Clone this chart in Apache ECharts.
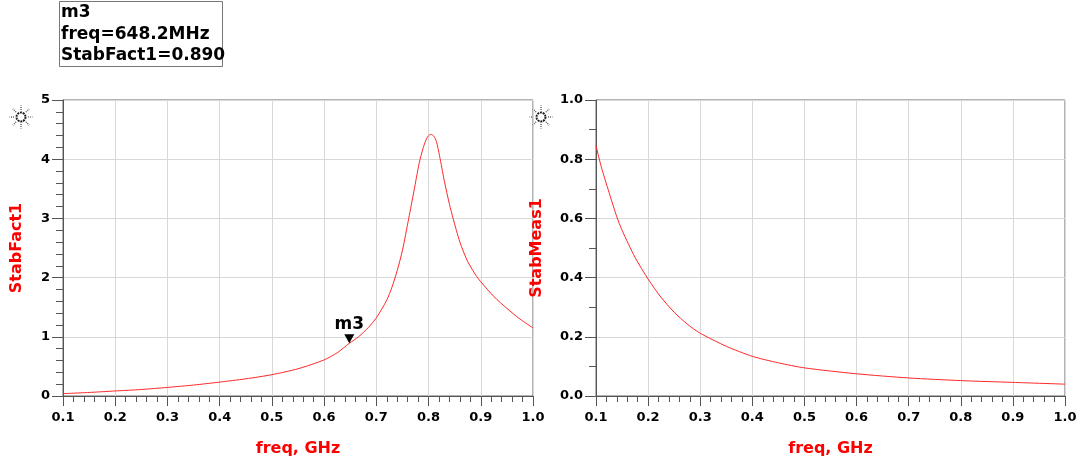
<!DOCTYPE html>
<html>
<head>
<meta charset="utf-8">
<script src="https://cdn.jsdelivr.net/npm/echarts@6/dist/echarts.min.js"></script>
<style>
html,body{margin:0;padding:0;background:#fff;}
#chart{width:1080px;height:462px;}
</style>
</head>
<body>
<div id="chart"></div>
<script>
// ---- data ----
const freqLeft = [0.10,0.15,0.20,0.25,0.30,0.35,0.40,0.45,0.50,0.55,0.60,0.625,0.6482,0.666,0.685,0.70,0.72,0.73,0.74,0.75,0.762,0.772,0.782,0.79,0.797,0.804,0.81,0.815,0.821,0.83,0.84,0.847,0.86,0.875,0.892,0.90,0.925,0.95,0.975,1.00];
const stabFact1 = [0.04,0.06,0.085,0.11,0.145,0.185,0.235,0.29,0.36,0.46,0.61,0.73,0.89,1.0,1.16,1.32,1.62,1.84,2.12,2.46,3.0,3.46,3.93,4.2,4.36,4.42,4.39,4.3,4.06,3.64,3.24,3.0,2.6,2.27,2.02,1.93,1.68,1.48,1.30,1.15];
const freqRight = [0.10,0.11,0.125,0.14,0.15,0.175,0.20,0.225,0.25,0.275,0.30,0.35,0.40,0.45,0.50,0.60,0.70,0.80,0.90,1.00];
const stabMeas1 = [0.846,0.775,0.688,0.605,0.56,0.468,0.395,0.333,0.283,0.243,0.212,0.168,0.134,0.112,0.095,0.075,0.061,0.052,0.046,0.040];
const xTicks = [0.1,0.2,0.3,0.4,0.5,0.6,0.7,0.8,0.9,1.0];
const markerName = 'm3';
const markerFreq = 0.6482;
const markerValue = 0.890;
const markerLines = ['m3','freq=648.2MHz','StabFact1=0.890'];

const FONT = 'DejaVu Sans, sans-serif';
const chart = echarts.init(document.getElementById('chart'));

function xAxisCfg(gridIndex){
  return {
    type:'value', gridIndex, min:0.1, max:1.0, interval:0.1,
    name:'freq, GHz', nameLocation:'middle', nameGap:45,
    nameTextStyle:{color:'#ff0000', fontWeight:'bold', fontSize:16, fontFamily:FONT},
    axisLine:{show:true, lineStyle:{color:'#555', width:1}},
    axisTick:{show:true, length:10, lineStyle:{color:'#555'}},
    minorTick:{show:true, splitNumber:5, length:6, lineStyle:{color:'#555'}},
    splitLine:{show:true, lineStyle:{color:'#d8d8d8', width:1}},
    axisLabel:{color:'#000', fontWeight:'bold', fontSize:13, fontFamily:FONT, margin:15,
      formatter:v=>{const t=xTicks.find(x=>Math.abs(x-v)<1e-6);return t===undefined?'':t.toFixed(1);}}
  };
}
function yAxisCfg(gridIndex, name, max, interval, minorSplit, digits, gap){
  return {
    type:'value', gridIndex, min:0, max, interval,
    name, nameLocation:'middle', nameGap:gap,
    nameTextStyle:{color:'#ff0000', fontWeight:'bold', fontSize:16, fontFamily:FONT},
    axisLine:{show:true, lineStyle:{color:'#555', width:1}},
    axisTick:{show:true, length:11, lineStyle:{color:'#555'}},
    minorTick:{show:true, splitNumber:minorSplit, length:7, lineStyle:{color:'#555'}},
    splitLine:{show:true, lineStyle:{color:'#d8d8d8', width:1}},
    axisLabel:{color:'#000', fontWeight:'bold', fontSize:13, fontFamily:FONT, margin:13,
      formatter:v=>v.toFixed(digits)}
  };
}

function gear(cx, cy){
  const children = [{type:'circle', shape:{cx, cy, r:4.5},
    style:{fill:'none', stroke:'#222', lineWidth:2, lineDash:[2,0.8]}}];
  for(let i=0;i<8;i++){
    const a = i*Math.PI/4;
    children.push({type:'line', shape:{x1:cx+7*Math.cos(a), y1:cy+7*Math.sin(a), x2:cx+11.5*Math.cos(a), y2:cy+11.5*Math.sin(a)},
      style:{stroke:'#444', lineWidth:1.2, lineDash:[1,1]}});
  }
  return {type:'group', children};
}

chart.setOption({
  animation:false,
  backgroundColor:'#fff',
  grid:[
    {left:63, right:547, top:100, bottom:65, show:true, borderColor:'#666', borderWidth:1, backgroundColor:'transparent'},
    {left:596, right:15, top:100, bottom:65, show:true, borderColor:'#666', borderWidth:1, backgroundColor:'transparent'}
  ],
  xAxis:[xAxisCfg(0), xAxisCfg(1)],
  yAxis:[
    yAxisCfg(0,'StabFact1',5,1,5,0,38),
    yAxisCfg(1,'StabMeas1',1,0.2,2,1,51)
  ],
  series:[
    {type:'line', xAxisIndex:0, yAxisIndex:0, showSymbol:false, smooth:0.25,
      lineStyle:{color:'#ff2828', width:1},
      data:freqLeft.map((f,i)=>[f,stabFact1[i]]),
      markPoint:{
        symbol:'triangle', symbolSize:[10,9], symbolRotate:180, symbolOffset:[0,-4.5],
        itemStyle:{color:'#000'},
        label:{show:true, position:'top', distance:1, formatter:markerName, color:'#000', fontWeight:'bold', fontSize:17, fontFamily:FONT},
        data:[{coord:[markerFreq, markerValue]}]
      }
    },
    {type:'line', xAxisIndex:1, yAxisIndex:1, showSymbol:false, smooth:0.25,
      lineStyle:{color:'#ff2828', width:1},
      data:freqRight.map((f,i)=>[f,stabMeas1[i]])}
  ],
  graphic:[
    {type:'rect', shape:{x:59.5, y:1.5, width:163, height:65}, style:{fill:'#fff', stroke:'#777', lineWidth:1}},
    {type:'text', left:61, top:2, style:{text:markerLines.join('\n'), font:'bold 17px '+FONT, fill:'#000', lineHeight:21.5}},
    gear(21,117),
    gear(541,117)
  ]
});
</script>
</body>
</html>
